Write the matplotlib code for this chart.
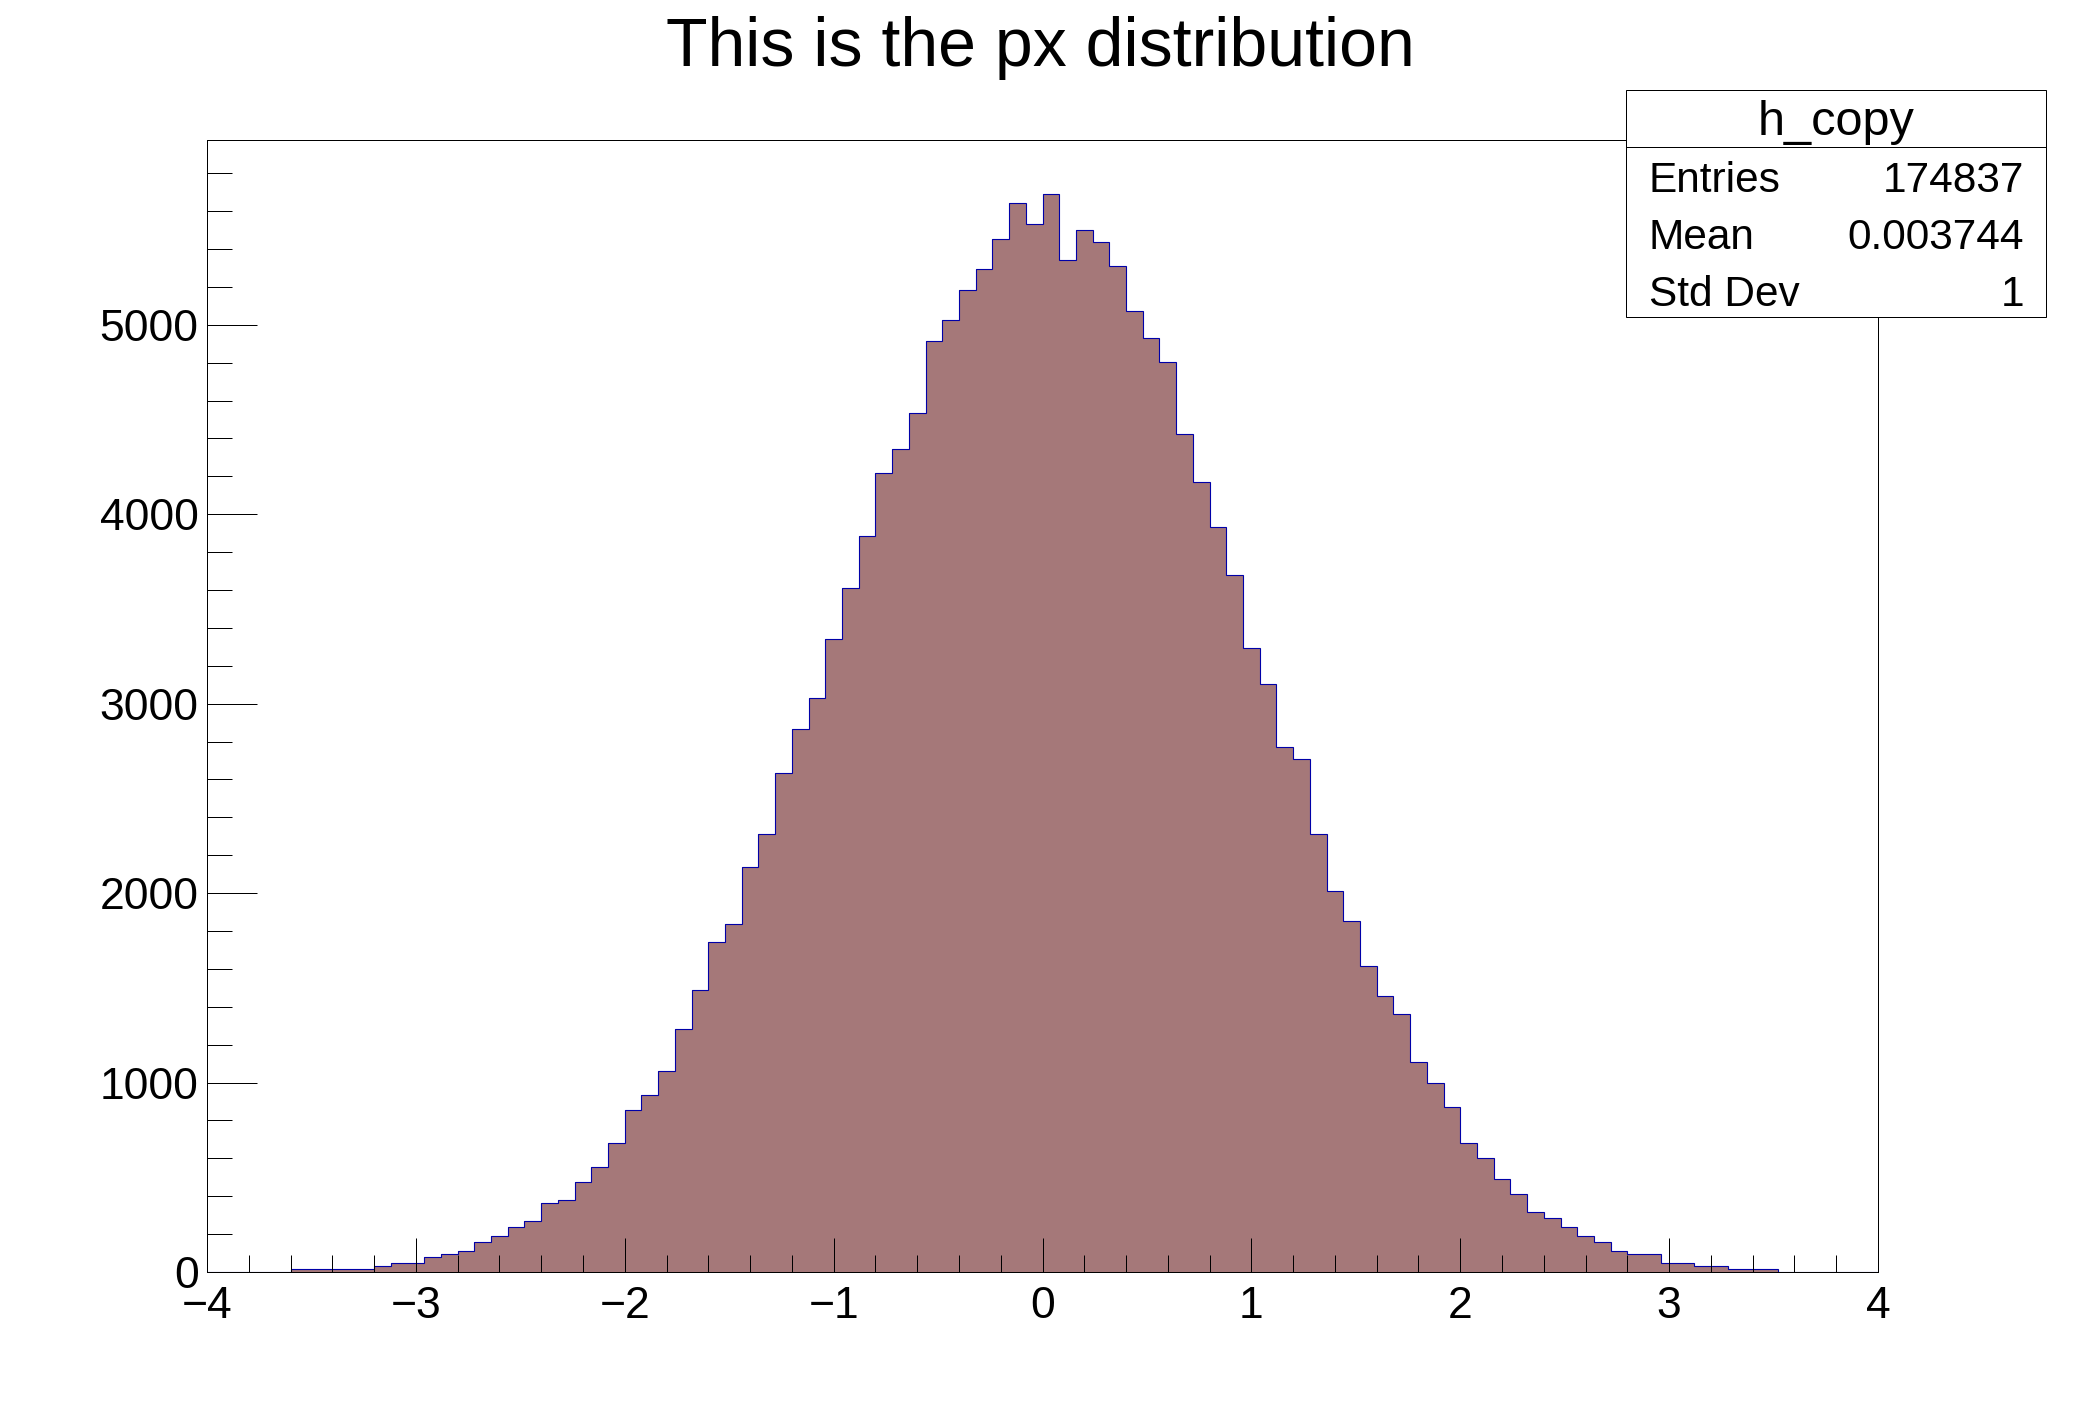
import numpy as np
import matplotlib
matplotlib.use("Agg")
import matplotlib.pyplot as plt
from matplotlib.patches import Rectangle
from matplotlib.lines import Line2D
from matplotlib.ticker import MultipleLocator

plt.rcParams['font.family'] = ['Liberation Sans', 'DejaVu Sans']

# histogram: 100 bins from -4 to 4
x_min, x_max, n_bins = -4.0, 4.0, 100
counts = [0] * 5 + [
    14, 14, 14, 14, 14, 30, 46, 46, 78, 94,
    109, 157, 189, 236, 268, 363, 379, 474, 553, 680,
    855, 934, 1061, 1283, 1489, 1743, 1838, 2139, 2313, 2632,
    2868, 3028, 3344, 3613, 3883, 4216, 4343, 4533, 4914, 5025,
    5183, 5294, 5453, 5643, 5532, 5691, 5342, 5500, 5437, 5310,
    5072, 4930, 4803, 4422, 4169, 3931, 3677, 3296, 3106, 2773,
    2710, 2313, 2012, 1854, 1616, 1457, 1362, 1108, 997, 870,
    680, 601, 490, 411, 316, 284, 236, 189, 157, 109,
    94, 94, 46, 46, 30, 30, 14, 14, 14,
] + [0] * 6

title = "This is the px distribution"
stats_name = "h_copy"
stats_labels = ["Entries", "Mean", "Std Dev"]
stats_values = ["174837", "0.003744", "1"]

W, H = 2088, 1416
fig = plt.figure(figsize=(W / 100, H / 100), dpi=100)
ax = fig.add_axes([207 / W, 144 / H, 1671 / W, 1132 / H])

edges = np.linspace(x_min, x_max, n_bins + 1)
ax.stairs(counts, edges, fill=True, color="#a57879", linewidth=0)
ax.stairs(counts, edges, color="#0000a8", linewidth=0.8)

ax.set_xlim(x_min, x_max)
ax.set_ylim(0, 1.05 * max(counts))

ax.xaxis.set_major_locator(MultipleLocator(1))
ax.xaxis.set_minor_locator(MultipleLocator(0.2))
ax.yaxis.set_major_locator(MultipleLocator(1000))
ax.yaxis.set_minor_locator(MultipleLocator(200))

ax.tick_params(axis='both', which='both', direction='in', width=0.72,
               labelsize=32, top=False, right=False)
ax.tick_params(axis='x', which='major', length=24.5, pad=10)
ax.tick_params(axis='x', which='minor', length=12.2)
ax.tick_params(axis='y', which='major', length=36, pad=6)
ax.tick_params(axis='y', which='minor', length=18)
for s in ax.spines.values():
    s.set_linewidth(0.72)

fig.text(0.5 - 4 / W, 1 - 66 / H, title, ha='center', va='baseline', fontsize=49)

# stats box
bx0, bx1, by0, by1 = 1626, 2046, 90, 317
fig.patches.append(Rectangle((bx0 / W, 1 - by1 / H), (bx1 - bx0) / W, (by1 - by0) / H,
                             transform=fig.transFigure, facecolor='white',
                             edgecolor='black', linewidth=0.72, zorder=5))
row_h = (by1 - by0) / 4
fig.lines.append(Line2D([bx0 / W, bx1 / W], [1 - (by0 + row_h) / H] * 2,
                        transform=fig.transFigure, color='black', linewidth=0.72, zorder=6))
fig.text((bx0 + bx1) / 2 / W, 1 - (by0 + row_h / 2 + 4) / H, stats_name,
         ha='center', va='center', fontsize=35, zorder=7)
for i, (lab, val) in enumerate(zip(stats_labels, stats_values)):
    yc = 1 - (by0 + row_h * (i + 1.5) + 6) / H
    fig.text(1649 / W, yc, lab, ha='left', va='center', fontsize=30.5, zorder=7)
    fig.text(2024 / W, yc, val, ha='right', va='center', fontsize=30.5, zorder=7)

fig.savefig("out.png", dpi=100)
